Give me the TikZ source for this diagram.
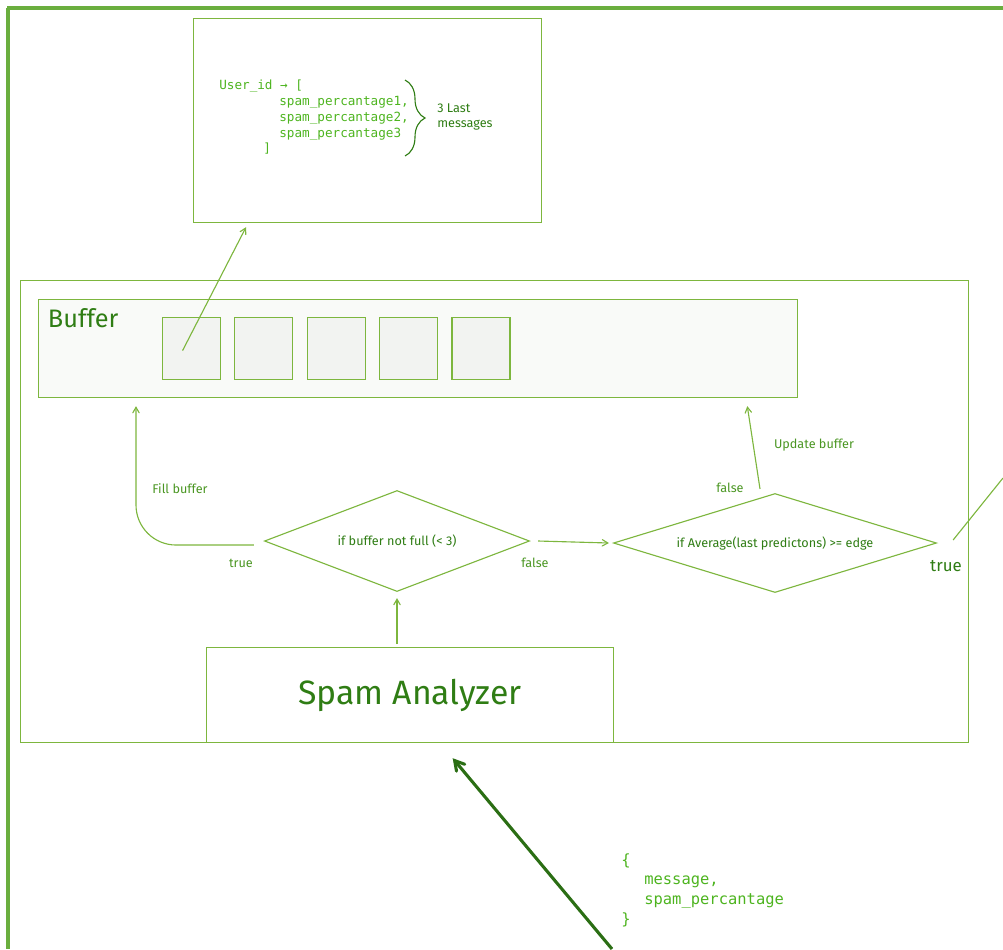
\documentclass[tikz,border=0pt]{standalone}
\usepackage{fontspec}
\setmainfont{Fira Sans}
\setmonofont{DejaVu Sans Mono}
\usetikzlibrary{positioning,shapes,decorations.pathreplacing}
\usetikzlibrary{arrows}
\usepackage{xcolor}
\definecolor{framegreen}{HTML}{6AAE3E}
\definecolor{linegreen}{HTML}{7DB63E}
\definecolor{inkgreen}{HTML}{2F7D14}
\definecolor{labelgreen}{HTML}{4A9622}
\definecolor{codegreen}{HTML}{4DB41F}
\definecolor{feedgreen}{HTML}{2B6E14}
\definecolor{cellgrey}{HTML}{F2F3F1}
\definecolor{buffergrey}{HTML}{F9FAF8}

\begin{document}
\begin{tikzpicture}
[x=0.025cm, y=-0.025cm,
% The box style is used to draw the plain rectangles
box/.style={rectangle, draw=linegreen, line width=0.8pt, inner sep=0pt, anchor=north west},
% The cell style is used to draw one slot of the buffer
cell/.style={box, fill=cellgrey, minimum width=1.45cm, minimum height=1.55cm},
% The test style is used to draw the decisions
test/.style={diamond, draw=linegreen, line width=0.8pt, inner sep=0pt, fill=white, font=\small, text=inkgreen},
% The flow style is used to draw the thin arrows
flow/.style={->, >=angle 60, draw=linegreen, line width=0.8pt},
hand/.style={font=\small, text=labelgreen, inner sep=0pt},
code/.style={text=codegreen, align=left, inner sep=0pt, anchor=north west}
]
\useasboundingbox (0,0) rectangle (1003,949);

% Frame
\draw[framegreen, line width=2.5pt] (7,8) -- (1003,8);
\draw[framegreen, line width=2.5pt] (8,8) -- (8,949);

% Stored predictions
\node[box, minimum width=8.7cm, minimum height=5.1cm] (store) at (193,18) {};
\node[code, font=\fontsize{9}{11.2}\ttfamily] (record) at (219,80)
  {User\_id → [\\
   \hspace*{1.5cm}spam\_percantage1,\\
   \hspace*{1.5cm}spam\_percantage2,\\
   \hspace*{1.5cm}spam\_percantage3\\
   \hspace*{1.1cm}]};
\draw[inkgreen, line width=0.8pt, decorate, decoration={brace, amplitude=0.5cm}] (405,80) -- (405,156);
\node[hand, text=inkgreen, align=left, anchor=west] (last) at (437,117) {3 Last\\messages};

% Service
\node[box, minimum width=23.7cm, minimum height=11.55cm] (service) at (20,280) {};
\node[box, fill=buffergrey, minimum width=18.975cm, minimum height=2.45cm] (buffer) at (38,299) {};
\node[font=\fontsize{18}{20}\selectfont, text=inkgreen, anchor=north west] (buffername) at (43,304) {Buffer};
\node[cell] (cell1) at (162,317) {};
\node[cell, right=0.33cm of cell1] (cell2) {};
\node[cell, right=0.33cm of cell2] (cell3) {};
\node[cell, right=0.33cm of cell3] (cell4) {};
\node[cell, right=0.33cm of cell4] (cell5) {};

\node[test, aspect=2.62, minimum width=6.625cm, minimum height=2.525cm] (notfull) at (397,541) {if buffer not full (< 3)};
\node[test, aspect=3.26, minimum width=8.075cm, minimum height=2.475cm] (average) at (775,543) {if Average(last predictons) >= edge};

\node[box, fill=white, minimum width=10.175cm, minimum height=2.375cm] (analyzer) at (206,647) {};
\node[font=\fontsize{24}{28}\selectfont, text=inkgreen] (analyzername) at (analyzer.center) {Spam Analyzer};

% Arrows
\coordinate (fillx) at (136,0);
\coordinate (feed) at (612,949);
\coordinate (outside) at (1003,478);
\draw[flow] ([xshift=-0.225cm, yshift=-0.05cm]cell1.center) -- ([xshift=1.325cm, yshift=-0.1cm]store.south west);
\draw[flow, rounded corners=1cm] ([xshift=-0.25cm, yshift=-0.1cm]notfull.west) -| ([yshift=-0.2cm]buffer.south -| fillx);
\draw[flow] ([xshift=0.2cm]notfull.east) -- ([xshift=-0.1cm]average.west);
\draw[flow] ([xshift=-0.375cm, yshift=0.1cm]average.north) -- ([xshift=-1.275cm, yshift=-0.2cm]buffer.south east);
\draw[linegreen, line width=0.8pt] ([xshift=0.4cm, yshift=0.075cm]average.east) -- (outside);
\draw[flow, shorten <=0.075cm, shorten >=0.15cm] (analyzer.north -| notfull.south) -- (notfull.south);
\draw[->, >=angle 60, feedgreen, line width=2.2pt, shorten >=0.49cm] (feed) -- ([xshift=0.75cm]analyzer.south);

% Labels
\node[hand] (fill) at (180,489) {Fill buffer};
\node[hand] (fulltrue) at (241,563) {true};
\node[hand] (fullfalse) at (535,563) {false};
\node[hand] (update) at (814,445) {Update buffer};
\node[hand] (avgfalse) at (730,488) {false};
\node[hand, font=\large, text=inkgreen] (avgtrue) at (946,566) {true};

\node[code, font=\fontsize{11}{14}\ttfamily] (payload) at (621,853)
  {\{\\
   \hspace*{0.575cm}message,\\
   \hspace*{0.575cm}spam\_percantage\\
   \}};
\end{tikzpicture}
\end{document}
